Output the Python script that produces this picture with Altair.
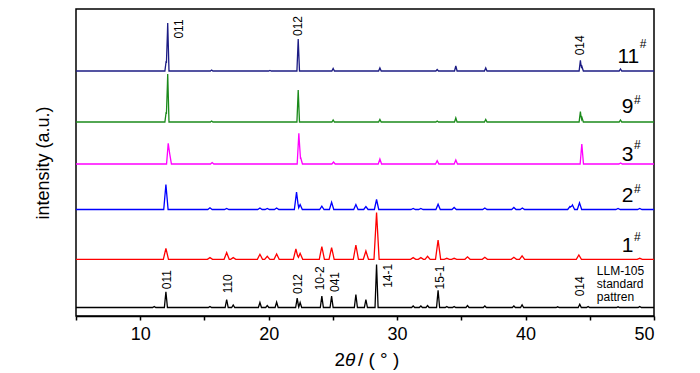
import altair as alt
import pandas as pd

FONT = "Liberation Sans, Arial, sans-serif"

# ---- series (top to bottom) ----
series_names = ["11#", "9#", "3#", "2#", "1#", "LLM-105"]
series_colors = ["#1c1c84", "#1b8a1b", "#ff00ff", "#0000ff", "#ff0000", "#000000"]
baselines = [245, 194, 152, 106.5, 56.7, 8.5]      # vertical offsets of each pattern
peak_widths = [0.1, 0.1, 0.13, 0.17, 0.2, 0.12]     # half base width of peaks (deg)

# peak positions (2theta, deg) and heights (a.u.)
pos_11 = [12.02, 12.14, 15.56, 20.1, 22.3, 25.02, 28.66, 33.12, 34.57, 36.9, 44.27, 44.4, 47.39]
h_11 = [10, 48, 1, 0.5, 32, 2.5, 3, 1.5, 5, 3, 10.7, 4, 2]

pos_9 = [12.02, 12.14, 15.56, 22.3, 25.02, 28.66, 33.12, 34.57, 36.9, 44.27, 44.4, 47.39]
h_9 = [10, 48, 1, 32, 2, 2.5, 1, 4, 2.5, 10.3, 4, 2]

pos_3 = [12.18, 12.3, 15.6, 22.35, 22.5, 25.05, 28.66, 33.12, 34.57, 44.38, 47.4]
h_3 = [20.7, 10, 1.5, 30.7, 6, 2, 5, 3.3, 4, 20, 1]

pos_2 = [12.0, 15.43, 16.73, 19.32, 19.89, 20.62, 22.17, 22.45, 24.14, 24.9, 26.79, 27.57,
         28.4, 31.25, 31.85, 33.19, 34.44, 36.83, 39.09, 39.75, 43.45, 43.65, 44.2, 47.2, 48.89]
h_2 = [25, 1.7, 1, 1.5, 1, 1.5, 17.3, 5, 3.3, 7.3, 5, 3,
       10, 1, 1, 5.3, 2, 1.5, 2, 1.5, 3, 4.5, 6.7, 1, 1]

pos_1 = [12.0, 15.43, 16.73, 17.24, 19.32, 19.89, 20.62, 22.12, 22.45, 24.14, 24.9, 26.79, 27.57,
         28.4, 31.25, 31.85, 32.37, 33.19, 33.87, 34.44, 35.48, 36.83, 39.09, 39.73, 44.15, 48.89]
h_1 = [11, 1.7, 6.7, 1.7, 5, 3, 5.3, 10.3, 6, 12.7, 11.7, 14.3, 8.3,
       46.7, 1.7, 1.7, 3, 19.3, 1, 1, 2.5, 2, 2, 3.5, 4.3, 1]

pos_std = [11.09, 12.0, 15.43, 16.73, 17.24, 19.32, 19.89, 20.62, 22.22, 22.45, 24.14, 24.9, 26.79,
           27.57, 28.4, 31.25, 31.85, 32.37, 33.19, 33.87, 34.44, 35.48, 36.83, 39.09, 39.73, 42.5,
           44.22, 44.87, 47.2, 48.89]
h_std = [1, 15.7, 1, 8, 2.5, 5, 2, 5.3, 9.3, 5, 11.3, 11.3, 13,
         8, 43, 1.5, 1.5, 2, 17.3, 1, 1, 2, 1.5, 1.5, 2.7, 0.7,
         3.3, 1, 0.7, 1]

peak_pos = [pos_11, pos_9, pos_3, pos_2, pos_1, pos_std]
peak_h = [h_11, h_9, h_3, h_2, h_1, h_std]

# ---- labels ----
label_main = ["11", "9", "3", "2", "1"]
label_main_x = [48.85, 48.4, 48.4, 48.4, 48.4]      # right edge
label_main_y = [252.7, 202.7, 155, 113.7, 64.3]
label_sup_x = [48.9, 48.45, 48.45, 48.45, 48.45]
label_sup_y = [268.5, 212.5, 167.5, 123.5, 75.5]

std_lines = ["LLM-105", "standard", "pattren"]
std_x = [45.55, 45.55, 45.55]
std_y = [41.5, 28.5, 15.5]

hkl_text = ["011", "012", "014", "011", "110", "012", "10-2", "041", "14-1", "15-1", "014"]
hkl_x = [13.02, 22.3, 44.26, 12.1, 16.83, 22.3, 23.99, 25.18, 29.3, 33.36, 44.2]
hkl_y = [287, 290, 270.7, 36.3, 32.2, 32, 37.7, 34, 40.2, 38.5, 29.7]

x_ticks = [5, 10, 15, 20, 25, 30, 35, 40, 45, 50]

# ---- build line table from the peak lists ----
rows = []
for k, name in enumerate(series_names):
    w = peak_widths[k]
    xs = {5.0, 50.0}
    for p in peak_pos[k]:
        xs.update([round(p - w, 4), p, round(p + w, 4)])
    for x in sorted(xs):
        val = 0.0
        for p, h in zip(peak_pos[k], peak_h[k]):
            d = abs(x - p)
            if d < w:
                val = max(val, h * (1 - d / w))
        rows.append({"series": name, "x": x, "y": baselines[k] + val})
df = pd.DataFrame(rows)

xscale = alt.Scale(domain=[5, 50], nice=False, zero=False)
yscale = alt.Scale(domain=[0, 307], nice=False, zero=False)
xaxis = alt.Axis(values=x_ticks, title=None,
                 labelExpr="datum.value % 10 == 0 ? datum.label : ''",
                 labelFont=FONT, labelFontSize=18, labelPadding=5,
                 labelColor="black", tickSize=4, tickWidth=1.5,
                 tickColor="black", domainColor="black", domainWidth=1.5,
                 grid=False)
yaxis = alt.Axis(title="intensity (a.u.)", labels=False, ticks=False,
                 domain=False, grid=False, titleFont=FONT,
                 titleFontSize=18, titleFontWeight="normal",
                 titleColor="black", titlePadding=24)


def X():
    return alt.X("x:Q", scale=xscale, axis=xaxis)


def Y():
    return alt.Y("y:Q", scale=yscale, axis=yaxis)


lines = alt.Chart(df).mark_line(strokeWidth=1.3).encode(
    x=X(), y=Y(),
    color=alt.Color("series:N", scale=alt.Scale(domain=series_names, range=series_colors),
                    legend=None),
    detail="series:N",
    order="x:Q",
)

main_df = pd.DataFrame({"t": label_main, "x": label_main_x, "y": label_main_y})
main_txt = alt.Chart(main_df).mark_text(font=FONT, fontSize=21, align="right",
                                        baseline="alphabetic", color="black").encode(
    x=X(), y=Y(), text="t:N")

sup_df = pd.DataFrame({"t": ["#"] * 5, "x": label_sup_x, "y": label_sup_y})
sup_txt = alt.Chart(sup_df).mark_text(font=FONT, fontSize=12, align="left",
                                      baseline="alphabetic", color="black").encode(
    x=X(), y=Y(), text="t:N")

std_df = pd.DataFrame({"t": std_lines, "x": std_x, "y": std_y})
std_txt = alt.Chart(std_df).mark_text(font=FONT, fontSize=12, align="left",
                                      baseline="alphabetic", color="black").encode(
    x=X(), y=Y(), text="t:N")

hkl_df = pd.DataFrame({"t": hkl_text, "x": hkl_x, "y": hkl_y})
hkl_txt = alt.Chart(hkl_df).mark_text(font=FONT, fontSize=12, angle=270, align="center",
                                      baseline="middle", color="black").encode(
    x=X(), y=Y(), text="t:N")

# x-axis title as text pieces (italic theta)
title_parts = ["2", "θ", "/ ( ° )"]
title_x = [25.95, 25.95, 26.95]
title_y = [-50, -50, -50]
title_align = ["right", "left", "left"]
title_style = ["normal", "italic", "normal"]
title_df = pd.DataFrame({"t": title_parts, "x": title_x, "y": title_y})
tlayers = []
for i in range(3):
    tlayers.append(
        alt.Chart(title_df.iloc[[i]]).mark_text(font=FONT, fontSize=19, align=title_align[i],
                                                 fontStyle=title_style[i], baseline="alphabetic",
                                                 color="black").encode(
            x=X(), y=Y(), text="t:N"))

chart = alt.layer(lines, main_txt, sup_txt, std_txt, hkl_txt, *tlayers).properties(
    width=578, height=307,
    padding={"left": 68, "top": 1, "right": 20, "bottom": 56},
    autosize="none",
).configure_view(stroke="black", strokeWidth=1.5)

chart.save("out.html", embed_options={"renderer": "svg", "actions": False})
